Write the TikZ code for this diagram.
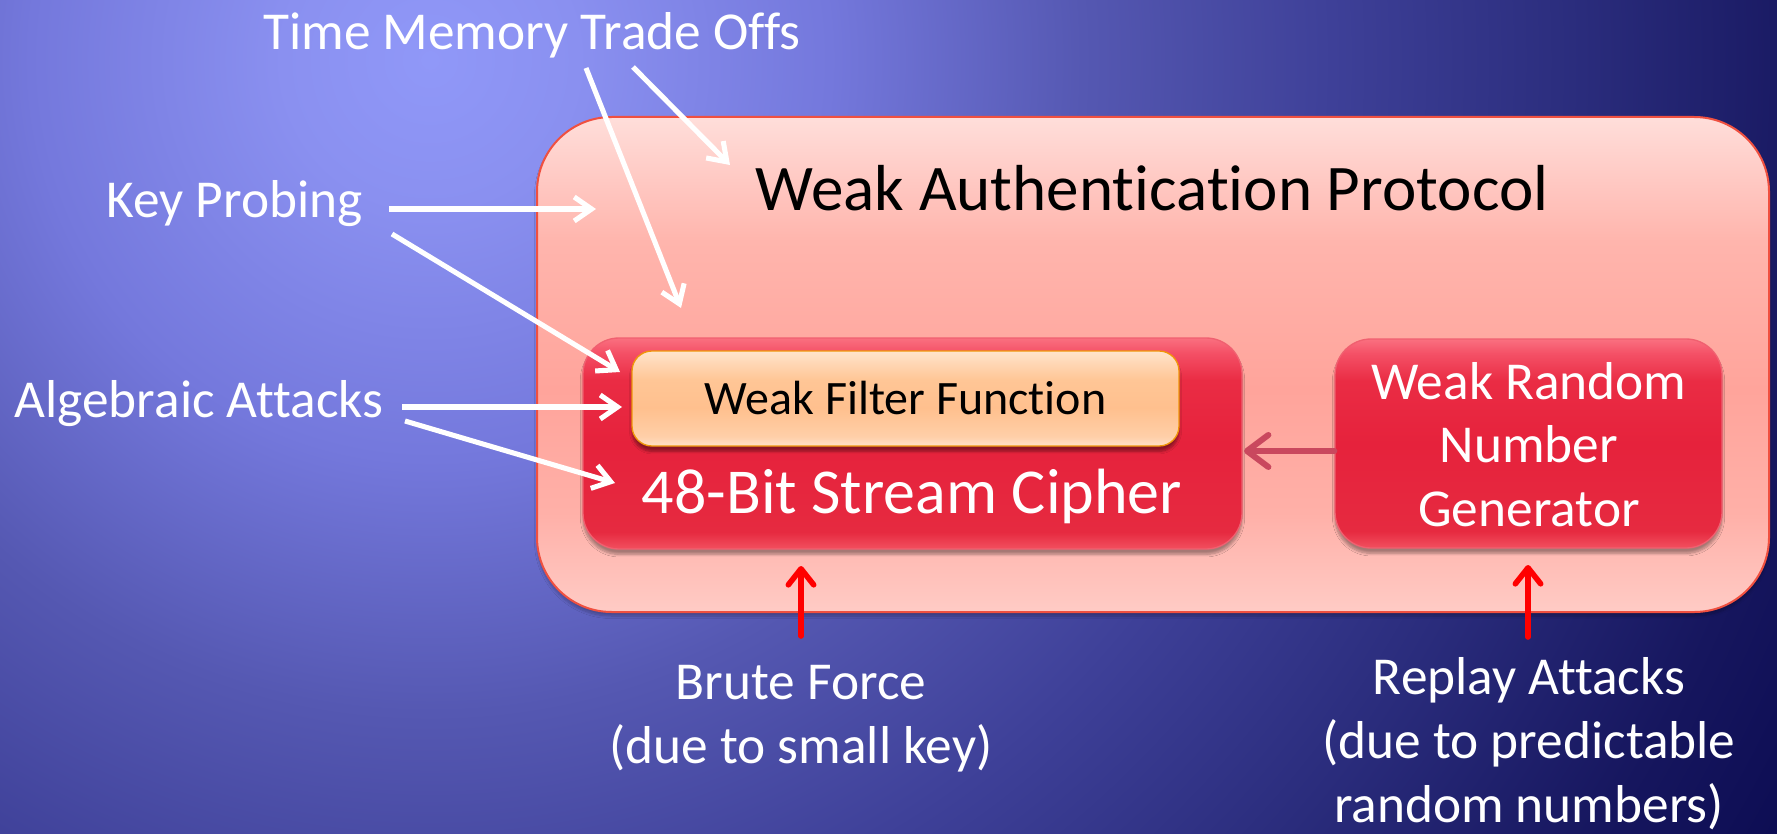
\documentclass[tikz,border=0pt]{standalone}
\usepackage{fontspec}
\setmainfont{Carlito}[Ligatures={NoCommon}]
\usetikzlibrary{arrows.meta,shadows.blur,calc}

\definecolor{bg0}{HTML}{9098F8}
\definecolor{bg1}{HTML}{8A90F0}
\definecolor{bg2}{HTML}{7478DC}
\definecolor{bg3}{HTML}{5558B2}
\definecolor{bg4}{HTML}{3E4098}
\definecolor{bg5}{HTML}{2A2C7C}
\definecolor{bg6}{HTML}{16165E}
\definecolor{bg7}{HTML}{0A0A50}

\definecolor{ob0}{HTML}{FFCBC5}
\definecolor{ob1}{HTML}{FFB0A8}
\definecolor{ob2}{HTML}{FFA49B}
\definecolor{ob3}{HTML}{FFB5AD}
\definecolor{ob4}{HTML}{FFDEDA}
\definecolor{obline}{HTML}{F05040}

\definecolor{rb0}{HTML}{F2505F}
\definecolor{rb1}{HTML}{E62A40}
\definecolor{rb2}{HTML}{E6223C}
\definecolor{rb3}{HTML}{EA2C44}
\definecolor{rb4}{HTML}{F45066}
\definecolor{rb5}{HTML}{FA7080}
\definecolor{rbline}{HTML}{F06070}

\definecolor{fb0}{HTML}{FFE0C8}
\definecolor{fb1}{HTML}{FFCFA8}
\definecolor{fb2}{HTML}{FFC08E}
\definecolor{fb3}{HTML}{FFC696}
\definecolor{fb4}{HTML}{FFE4CC}
\definecolor{fbline}{HTML}{F0960A}

\definecolor{rngarrow}{HTML}{C9485E}
\definecolor{attackred}{HTML}{FF0000}

\pgfdeclareradialshading{bgshade}{\pgfpoint{0bp}{0bp}}{color(0bp)=(bg0); color(2.3bp)=(bg1); color(6.25bp)=(bg2); color(10.2bp)=(bg3); color(14.1bp)=(bg4); color(18bp)=(bg5); color(21.9bp)=(bg6); color(25bp)=(bg7); color(50bp)=(bg7)}
\pgfdeclareverticalshading{outershade}{100bp}{color(0bp)=(ob0); color(25bp)=(ob0); color(35bp)=(ob1); color(47.5bp)=(ob2); color(62.5bp)=(ob3); color(75bp)=(ob4); color(100bp)=(ob4)}
\pgfdeclareverticalshading{redshade}{100bp}{color(0bp)=(rb0); color(25bp)=(rb0); color(29bp)=(rb1); color(50bp)=(rb2); color(65bp)=(rb3); color(71.5bp)=(rb4); color(75bp)=(rb5); color(100bp)=(rb5)}
\pgfdeclareverticalshading{filtershade}{100bp}{color(0bp)=(fb0); color(25bp)=(fb0); color(30bp)=(fb1); color(45bp)=(fb2); color(60bp)=(fb3); color(75bp)=(fb4); color(100bp)=(fb4)}

\begin{document}
\begin{tikzpicture}[x=0.75pt,y=-0.75pt,
  authbox/.style={shade, shading=outershade, draw=obline, line width=1.5pt,
    rounded corners=56pt, inner sep=0pt,
    blur shadow={shadow xshift=0pt, shadow yshift=-3pt, shadow blur steps=8, shadow opacity=25}},
  redbox/.style={shade, shading=redshade, draw=rbline, line width=1pt,
    rounded corners=27pt, inner sep=0pt, text=white,
    blur shadow={shadow xshift=0pt, shadow yshift=-4pt, shadow blur steps=8, shadow opacity=35}},
  filterbox/.style={shade, shading=filtershade, draw=fbline, line width=1pt,
    rounded corners=15pt, inner sep=0pt, text=black,
    font=\fontsize{36pt}{43pt}\selectfont,
    blur shadow={shadow xshift=0pt, shadow yshift=-4pt, shadow blur steps=6, shadow opacity=40}},
  lbl/.style={text=white, inner sep=0pt, anchor=base, align=center,
    font=\fontsize{40pt}{48pt}\selectfont},
  whitearrow/.style={draw=white, line width=3.8pt, -{Straight Barb[length=13pt,width=18pt]}},
  redarrow/.style={draw=attackred, line width=4.2pt, line cap=round,
    -{Straight Barb[length=12pt,width=19pt,round]}},
  feedarrow/.style={draw=rngarrow, line width=4.5pt, line cap=round,
    -{Straight Barb[length=16pt,width=24pt,round]}}
]
\path[use as bounding box] (0,0) rectangle (1777,834);
\begin{scope}
  \clip (0,0) rectangle (1777,834);
  \shade[shading=bgshade] (430,60) circle[radius=1600];
\end{scope}

% boxes
\node[authbox, minimum width=924pt, minimum height=371.25pt] (auth) at (1153,364.5) {};
\node[text=black, inner sep=0pt, anchor=base, font=\fontsize{48.8pt}{58pt}\selectfont]
  (authtitle) at (1152,211) {Weak Authentication Protocol};

\node[redbox, minimum width=494.25pt, minimum height=158.25pt] (cipher) at (912.5,443.5) {};
\node[filterbox, minimum width=410.25pt, minimum height=71.25pt] (filter) at (905.5,398.5) {Weak Filter Function};
\node[text=white, inner sep=0pt, anchor=base, font=\fontsize{48pt}{58pt}\selectfont]
  (ciphertitle) at (912,513) {48-Bit Stream Cipher};

\node[redbox, minimum width=290.25pt, minimum height=156.75pt, align=center,
  font=\fontsize{40pt}{48pt}\selectfont] (rng) at (1528.5,443.5) {};
\node[text=white, inner sep=0pt, anchor=base, align=center,
  font=\fontsize{40pt}{47.5pt}\selectfont] (rngtxt) at (1529,526) {Weak Random\\Number\\Generator};

% labels
\node[lbl] (tmto) at (532,50) {Time Memory Trade Offs};
\node[lbl] (kp) at (234.5,218) {Key Probing};
\node[lbl] (aa) at (199,417) {Algebraic Attacks};
\node[lbl] (bf) at (801,763) {Brute Force\\(due to small key)};
\node[lbl] (ra) at (1529,822) {Replay Attacks\\(due to predictable\\random numbers)};

% arrow end points
\coordinate (tm1s) at (586,68);  \coordinate (tm1e) at (681,308);
\coordinate (tm2s) at (633,67);  \coordinate (tm2e) at (730,165);
\coordinate (kp1s) at (389,209); \coordinate (kp1e) at (596,209);
\coordinate (kp2s) at (392,234); \coordinate (kp2e) at (620,372);
\coordinate (aa1s) at (402,407); \coordinate (aa1e) at (622,407);
\coordinate (aa2s) at (405,421); \coordinate (aa2e) at (615,483);
\coordinate (bfs) at (801,636);  \coordinate (bfe) at (801,566);
\coordinate (ras) at (1528,637); \coordinate (rae) at (1528,565);

\draw[whitearrow] (tm1s) -- (tm1e);
\draw[whitearrow] (tm2s) -- (tm2e);
\draw[whitearrow] (kp1s) -- (kp1e);
\draw[whitearrow] (kp2s) -- (kp2e);
\draw[whitearrow] (aa1s) -- (aa1e);
\draw[whitearrow] (aa2s) -- (aa2e);
\draw[redarrow] (bfs) -- (bfe);
\draw[redarrow] (ras) -- (rae);
\draw[feedarrow] ([yshift=-5.6pt]rng.west) -- ([yshift=-5.6pt,xshift=1pt]cipher.east);
\end{tikzpicture}
\end{document}
